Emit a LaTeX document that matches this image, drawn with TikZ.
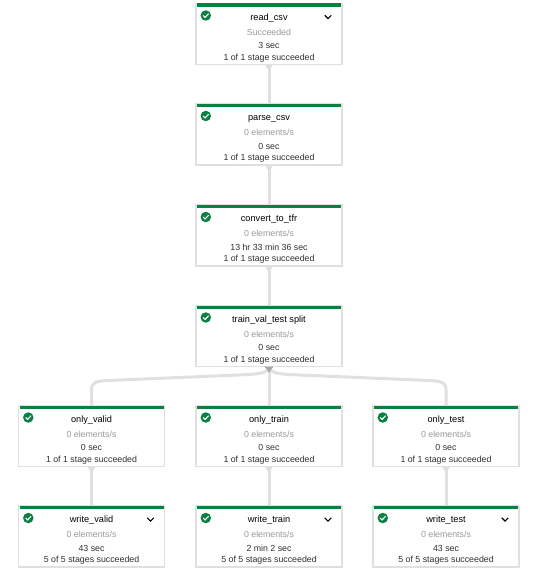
\documentclass[tikz,border=0pt]{standalone}
\usepackage{fontspec}
\setmainfont{Liberation Sans}
\definecolor{flowgreen}{HTML}{0B8043}
\definecolor{edgegray}{HTML}{E0E0E0}
\definecolor{headgray}{HTML}{A8A8A8}
\definecolor{mutedtext}{HTML}{9A9A9A}
\definecolor{darktext}{HTML}{303030}
\tikzset{
  x=1pt,y=-1pt,
  stagebox/.style={draw=edgegray,line width=1.5pt,fill=white,minimum width=146pt,minimum height=61pt,inner sep=0pt,outer sep=0pt},
  greenbar/.style={fill=flowgreen,draw=none},
  titletext/.style={font=\fontsize{9.2}{10}\selectfont,text=black,inner sep=0pt},
  mutedline/.style={font=\fontsize{8.8}{10}\selectfont,text=mutedtext,inner sep=0pt},
  bodyline/.style={font=\fontsize{8.8}{10}\selectfont,text=darktext,inner sep=0pt},
  edgeline/.style={draw=edgegray,line width=3pt},
  flare/.style={fill=edgegray,draw=none},
  headflare/.style={fill=headgray,draw=none},
  okdisc/.style={circle,fill=flowgreen,draw=none,minimum size=10.5pt,inner sep=0pt},
  okcheck/.style={draw=white,line width=1.1pt},
  chev/.style={draw=black,line width=1.2pt}
}
% name, centre x, top y, title, status, time, stage line, chevron flag
\newcommand{\stagenode}[8]{%
  \node[stagebox,anchor=north] (#1) at (#2,#3) {};
  \fill[greenbar] ([xshift=1pt]#1.north west) rectangle ([xshift=-1pt,yshift=-3.4pt]#1.north east);
  \node[titletext] (#1title) at (#2,#3+14.5) {#4};
  \node[mutedline] (#1status) at (#2,#3+28.8) {#5};
  \node[bodyline] (#1time) at (#2,#3+42) {#6};
  \node[bodyline] (#1stage) at (#2,#3+54.5) {#7};
  \node[okdisc] (#1ok) at (#2-63.2,#3+12) {};
  \draw[okcheck] ([xshift=-2.6pt,yshift=0pt]#1ok.center) -- ([xshift=-0.7pt,yshift=-1.9pt]#1ok.center) -- ([xshift=2.8pt,yshift=1.7pt]#1ok.center);
  \ifnum#8=1
    \coordinate (#1chev) at (#2+59,#3+13.5);
    \draw[chev] ([xshift=-3.2pt,yshift=1.6pt]#1chev) -- ([yshift=-1.6pt]#1chev) -- ([xshift=3.2pt,yshift=1.6pt]#1chev);
  \fi
}
\newcommand{\straightlink}[2]{%
  \draw[edgeline] (#1.south) -- (#2.north);
  \fill[flare] ([xshift=-4pt]#1.south) -- ([xshift=4pt]#1.south) -- ([xshift=1.5pt,yshift=-4.5pt]#1.south) -- ([xshift=-1.5pt,yshift=-4.5pt]#1.south) -- cycle;
}
\begin{document}
\begin{tikzpicture}
\useasboundingbox (0,0) rectangle (539,572);
\fill[white] (0,0) rectangle (539,572);
\stagenode{readcsv}{269}{3.5}{read\_csv}{Succeeded}{3 sec}{1 of 1 stage succeeded}{1}
\stagenode{parsecsv}{269}{104}{parse\_csv}{0 elements/s}{0 sec}{1 of 1 stage succeeded}{0}
\stagenode{convert}{269}{205}{convert\_to\_tfr}{0 elements/s}{13 hr 33 min 36 sec}{1 of 1 stage succeeded}{0}
\stagenode{split}{269}{305.5}{train\_val\_test split}{0 elements/s}{0 sec}{1 of 1 stage succeeded}{0}
\stagenode{onlyvalid}{91.5}{405.5}{only\_valid}{0 elements/s}{0 sec}{1 of 1 stage succeeded}{0}
\stagenode{onlytrain}{269}{405.5}{only\_train}{0 elements/s}{0 sec}{1 of 1 stage succeeded}{0}
\stagenode{onlytest}{446}{405.5}{only\_test}{0 elements/s}{0 sec}{1 of 1 stage succeeded}{0}
\stagenode{writevalid}{91.5}{506}{write\_valid}{0 elements/s}{43 sec}{5 of 5 stages succeeded}{1}
\stagenode{writetrain}{269}{506}{write\_train}{0 elements/s}{2 min 2 sec}{5 of 5 stages succeeded}{1}
\stagenode{writetest}{446}{506}{write\_test}{0 elements/s}{43 sec}{5 of 5 stages succeeded}{1}
\straightlink{readcsv}{parsecsv}
\straightlink{parsecsv}{convert}
\straightlink{convert}{split}
\straightlink{onlyvalid}{writevalid}
\straightlink{onlytrain}{writetrain}
\straightlink{onlytest}{writetest}
\draw[edgeline] (split.south) -- (onlytrain.north);
\draw[edgeline] (split.south) .. controls (269,372) and (262,373.5) .. (250,374.5) -- (108,380.5) .. controls (95,381) and (91.5,383) .. (91.5,390) -- (onlyvalid.north);
\draw[edgeline] (split.south) .. controls (269,372) and (276,373.5) .. (288,374.5) -- (429,380.5) .. controls (442.5,381) and (446,383) .. (446,390) -- (onlytest.north);
\fill[headflare] ([xshift=-4.5pt]split.south) -- ([xshift=4.5pt]split.south) -- ([yshift=-6pt]split.south) -- cycle;
\end{tikzpicture}
\end{document}
